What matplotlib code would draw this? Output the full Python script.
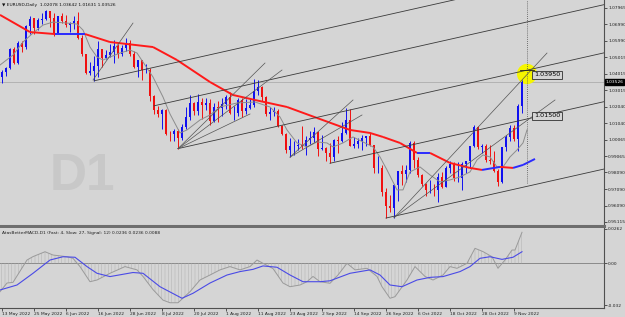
import matplotlib
matplotlib.use("Agg")
import matplotlib.pyplot as plt
import numpy as np
from matplotlib.collections import LineCollection
from matplotlib.patches import Ellipse

# EURUSD daily bars, 13 May 2022 .. 11 Nov 2022 (bar index 0..130)
opens = [1.0380, 1.0412, 1.0437, 1.0551, 1.0465, 1.0587, 1.0563, 1.0690, 1.0734, 1.0675,
         1.0725, 1.0732, 1.0780, 1.0734, 1.0648, 1.0749, 1.0719, 1.0696, 1.0704, 1.0718,
         1.0617, 1.0518, 1.0407, 1.0416, 1.0447, 1.0549, 1.0496, 1.0513, 1.0534, 1.0566,
         1.0522, 1.0554, 1.0585, 1.0519, 1.0443, 1.0484, 1.0424, 1.0425, 1.0266, 1.0182,
         1.0160, 1.0185, 1.0040, 1.0037, 1.0060, 1.0018, 1.0080, 1.0141, 1.0226, 1.0178,
         1.0229, 1.0212, 1.0224, 1.0118, 1.0202, 1.0196, 1.0221, 1.0262, 1.0165, 1.0167,
         1.0246, 1.0180, 1.0196, 1.0212, 1.0298, 1.0320, 1.0259, 1.0160, 1.0170, 1.0180,
         1.0089, 1.0037, 0.9943, 0.9968, 0.9969, 0.9971, 0.9965, 1.0003, 1.0017, 1.0054,
         0.9947, 0.9954, 0.9928, 0.9901, 1.0006, 0.9997, 1.0043, 1.0123, 0.9969, 0.9978,
         0.9998, 1.0016, 1.0026, 0.9972, 0.9836, 0.9838, 0.9690, 0.9608, 0.9594, 0.9735,
         0.9815, 0.9801, 0.9825, 0.9985, 0.9884, 0.9793, 0.9742, 0.9702, 0.9706, 0.9703,
         0.9779, 0.9723, 0.9838, 0.9859, 0.9774, 0.9778, 0.9861, 0.9876, 0.9965, 1.0080,
         0.9963, 0.9966, 0.9883, 0.9876, 0.9820, 0.9750, 0.9960, 1.0019, 1.0073, 1.0010,
         1.0208]
highs = [1.0425, 1.0443, 1.0555, 1.0564, 1.0600, 1.0597, 1.0694, 1.0749, 1.0736, 1.0736,
         1.0765, 1.0787, 1.0781, 1.0765, 1.0750, 1.0764, 1.0752, 1.0711, 1.0748, 1.0774,
         1.0637, 1.0521, 1.0471, 1.0506, 1.0601, 1.0553, 1.0546, 1.0582, 1.0606, 1.0579,
         1.0575, 1.0615, 1.0606, 1.0537, 1.0486, 1.0486, 1.0463, 1.0436, 1.0276, 1.0206,
         1.0189, 1.0189, 1.0055, 1.0071, 1.0069, 1.0098, 1.0200, 1.0272, 1.0234, 1.0278,
         1.0258, 1.0258, 1.0249, 1.0224, 1.0236, 1.0254, 1.0274, 1.0293, 1.0208, 1.0254,
         1.0253, 1.0248, 1.0249, 1.0368, 1.0364, 1.0329, 1.0266, 1.0203, 1.0201, 1.0192,
         1.0096, 1.0047, 1.0018, 0.9999, 1.0011, 1.0090, 1.0028, 1.0055, 1.0079, 1.0056,
         1.0033, 0.9960, 0.9987, 1.0011, 1.0029, 1.0113, 1.0198, 1.0188, 1.0020, 1.0018,
         1.0036, 1.0030, 1.0051, 0.9976, 0.9907, 0.9852, 0.9716, 0.9671, 0.9737, 0.9815,
         0.9853, 0.9852, 0.9999, 0.9999, 0.9904, 0.9800, 0.9746, 0.9763, 0.9739, 0.9807,
         0.9809, 0.9846, 0.9876, 0.9870, 0.9874, 0.9870, 0.9875, 0.9964, 1.0093, 1.0089,
         0.9978, 0.9978, 0.9975, 0.9935, 0.9830, 0.9961, 1.0033, 1.0095, 1.0093, 1.0222,
         1.0364]
lows = [1.0349, 1.0389, 1.0428, 1.0461, 1.0463, 1.0533, 1.0550, 1.0641, 1.0642, 1.0662,
        1.0700, 1.0726, 1.0680, 1.0627, 1.0643, 1.0704, 1.0682, 1.0653, 1.0671, 1.0612,
        1.0508, 1.0398, 1.0397, 1.0359, 1.0381, 1.0444, 1.0489, 1.0502, 1.0469, 1.0494,
        1.0510, 1.0540, 1.0510, 1.0439, 1.0382, 1.0366, 1.0405, 1.0235, 1.0162, 1.0144,
        1.0072, 1.0035, 0.9999, 0.9998, 0.9952, 1.0006, 1.0070, 1.0123, 1.0153, 1.0153,
        1.0128, 1.0182, 1.0096, 1.0109, 1.0111, 1.0145, 1.0190, 1.0160, 1.0123, 1.0148,
        1.0141, 1.0160, 1.0188, 1.0203, 1.0273, 1.0236, 1.0150, 1.0122, 1.0148, 1.0080,
        1.0033, 0.9926, 0.9901, 0.9911, 0.9946, 0.9948, 0.9914, 0.9978, 0.9990, 0.9910,
        0.9943, 0.9877, 0.9864, 0.9876, 0.9928, 0.9990, 1.0040, 0.9966, 0.9955, 0.9955,
        0.9945, 0.9965, 0.9968, 0.9808, 0.9807, 0.9666, 0.9535, 0.9571, 0.9537, 0.9636,
        0.9735, 0.9753, 0.9808, 0.9838, 0.9782, 0.9730, 0.9670, 0.9683, 0.9669, 0.9632,
        0.9713, 0.9720, 0.9807, 0.9759, 0.9754, 0.9705, 0.9807, 0.9837, 0.9960, 0.9950,
        0.9925, 0.9871, 0.9860, 0.9813, 0.9730, 0.9745, 0.9935, 1.0000, 0.9995, 0.9935,
        1.0163]
closes = [1.0411, 1.0436, 1.0551, 1.0464, 1.0586, 1.0562, 1.0690, 1.0733, 1.0675, 1.0725,
          1.0732, 1.0780, 1.0734, 1.0648, 1.0749, 1.0719, 1.0696, 1.0704, 1.0718, 1.0617,
          1.0518, 1.0407, 1.0416, 1.0447, 1.0549, 1.0496, 1.0513, 1.0534, 1.0566, 1.0522,
          1.0554, 1.0585, 1.0519, 1.0443, 1.0484, 1.0424, 1.0425, 1.0266, 1.0182, 1.0160,
          1.0185, 1.0040, 1.0037, 1.0060, 1.0018, 1.0080, 1.0141, 1.0226, 1.0178, 1.0229,
          1.0212, 1.0224, 1.0118, 1.0202, 1.0196, 1.0221, 1.0262, 1.0165, 1.0167, 1.0246,
          1.0180, 1.0196, 1.0212, 1.0298, 1.0320, 1.0259, 1.0160, 1.0170, 1.0180, 1.0089,
          1.0037, 0.9943, 0.9968, 0.9969, 0.9971, 0.9965, 1.0003, 1.0017, 1.0054, 0.9947,
          0.9954, 0.9928, 0.9901, 1.0006, 0.9997, 1.0043, 1.0123, 0.9969, 0.9978, 0.9998,
          1.0016, 1.0026, 0.9972, 0.9836, 0.9838, 0.9690, 0.9608, 0.9594, 0.9735, 0.9815,
          0.9801, 0.9825, 0.9985, 0.9884, 0.9793, 0.9742, 0.9702, 0.9706, 0.9703, 0.9779,
          0.9723, 0.9838, 0.9859, 0.9774, 0.9778, 0.9861, 0.9876, 0.9965, 1.0080, 0.9963,
          0.9966, 0.9883, 0.9876, 0.9820, 0.9750, 0.9960, 1.0019, 1.0073, 1.0010, 1.0210,
          1.0353]

date_labels = ["13 May 2022", "25 May 2022", "6 Jun 2022", "16 Jun 2022", "28 Jun 2022",
               "8 Jul 2022", "20 Jul 2022", "1 Aug 2022", "11 Aug 2022", "23 Aug 2022",
               "2 Sep 2022", "14 Sep 2022", "26 Sep 2022", "6 Oct 2022", "18 Oct 2022",
               "28 Oct 2022", "9 Nov 2022"]
date_idx = list(range(0, 129, 8))

price_ticks = [1.07965, 1.06990, 1.05990, 1.05015, 1.04015, 1.03015, 1.02040, 1.01040,
               1.00065, 0.99065, 0.98090, 0.97090, 0.96090, 0.95115]
last_price = 1.03526

# slow MA (red falling / blue rising)
ma_slow_idx = [-0.5, 7, 13.25, 20.75, 27, 37.75, 43.75, 52, 57.75, 63.25, 71.25, 78.75, 87,
               92, 95.25, 99.5, 103.75, 107, 112, 117, 120, 124.5, 127.75, 130.25, 133.25]
ma_slow_val = [1.0755, 1.0652, 1.0640, 1.0640, 1.0592, 1.0562, 1.0484, 1.0352, 1.0274, 1.0244,
               1.0202, 1.0136, 1.0064, 1.0046, 1.0022, 0.9986, 0.9926, 0.9926, 0.9866, 0.9836,
               0.9824, 0.9842, 0.9836, 0.9854, 0.9890]

# fast MA (thin grey)
ma_fast_idx = [-0.5, 2.75, 5.25, 7.75, 10.25, 12.75, 16.25, 18.75, 20.25, 22, 23.75, 25.25,
               27, 29.5, 32, 33.75, 35.25, 37.75, 40.25, 42, 44.5, 46.25, 49.5, 52, 54.5,
               58.75, 63.25, 67, 69.5, 71.25, 73.75, 76.25, 78.75, 81.25, 82.75, 85.25, 87.75,
               90.25, 92.75, 94.5, 96.25, 97.5, 98.75, 100.25, 102, 104.5, 107, 109.5, 112,
               114.5, 117, 118.75, 120.25, 122, 123.75, 125.25, 127, 128.75, 130.25, 131.25]
ma_fast_val = [1.0454, 1.0514, 1.0592, 1.0646, 1.0694, 1.0712, 1.0706, 1.0700, 1.0664, 1.0562,
               1.0502, 1.0484, 1.0502, 1.0526, 1.0544, 1.0526, 1.0472, 1.0382, 1.0262, 1.0160,
               1.0046, 1.0064, 1.0124, 1.0154, 1.0202, 1.0226, 1.0232, 1.0202, 1.0142, 1.0064,
               0.9986, 0.9962, 0.9992, 0.9986, 0.9962, 0.9986, 1.0022, 0.9992, 0.9962, 0.9902,
               0.9824, 0.9764, 0.9704, 0.9704, 0.9812, 0.9842, 0.9794, 0.9752, 0.9764, 0.9782,
               0.9812, 0.9884, 0.9914, 0.9902, 0.9842, 0.9842, 0.9902, 0.9944, 0.9986, 1.0064]

# parallel channel rays: anchor bar, anchor price
channel_slope = 0.00054
channel_idx = [23, 38, 44, 82, 96]
channel_val = [1.0359, 1.0209, 0.9952, 0.9864, 0.9535]

# fan / trend segments: (bar0, price0, bar1, price1)
fan_lines = [
    (22.75, 1.0364, 32.75, 1.0706),
    (44, 0.9952, 65.75, 1.0466),
    (44, 0.9952, 70, 1.0424),
    (44, 0.9952, 62, 1.0160),
    (72, 0.9901, 87.75, 1.0244),
    (72, 0.9901, 90, 1.0154),
    (98, 0.9537, 136.25, 1.0526),
    (98, 0.9537, 138.25, 1.0244),
]

# MACD panel (fast 4, slow 27, signal 12)
macd_idx = [-0.5, 1.25, 2.75, 6.25, 7.75, 10.75, 12.75, 16.25, 17.75, 19.5, 22, 23.75, 27,
            30.75, 33.75, 35.25, 37.75, 40.25, 42, 44, 47, 49.5, 52, 54.5, 57, 59.5, 62,
            63.75, 65.25, 67.75, 70.25, 72, 74.5, 76.25, 77.75, 79.5, 82, 84, 86.25, 88.25,
            91.25, 93.75, 95, 97, 98.25, 101.25, 103.25, 105.75, 107.75, 110.25, 112, 113.75,
            116.25, 118.25, 120.25, 122.5, 124, 125.75, 127.5, 128.25, 130]
macd_val = [-0.0216, -0.0150, -0.0145, 0.0025, 0.0051, 0.0088, 0.0063, 0.0050, 0.0038, -0.0025,
            -0.0140, -0.0127, -0.0076, -0.0025, -0.0050, -0.0100, -0.0200, -0.0280, -0.0300,
            -0.0300, -0.0216, -0.0127, -0.0089, -0.0050, -0.0025, -0.0050, -0.0025, 0.0025,
            0.0000, -0.0040, -0.0150, -0.0178, -0.0165, -0.0140, -0.0100, -0.0140, -0.0152,
            -0.0089, 0.0000, -0.0050, -0.0038, -0.0100, -0.0178, -0.0266, -0.0254, -0.0127,
            -0.0025, -0.0100, -0.0127, -0.0089, -0.0025, -0.0038, 0.0000, 0.0114, 0.0089,
            0.0050, -0.0038, 0.0025, 0.0101, 0.0101, 0.0236]
signal_idx = [-0.5, 3.75, 7.75, 12, 15.25, 18.25, 21.25, 23.75, 27, 32.75, 35.25, 39.5, 45,
              47.75, 52, 56.25, 59.5, 62.75, 65.25, 68.75, 72, 75.25, 79.5, 82, 87, 92, 94.5,
              97, 100, 103.75, 107, 110.25, 114.5, 117, 119.5, 122, 125, 127.75, 130]
signal_val = [-0.0203, -0.0165, -0.0076, 0.0025, 0.0050, 0.0046, -0.0025, -0.0076, -0.0101,
              -0.0070, -0.0076, -0.0178, -0.0266, -0.0228, -0.0150, -0.0089, -0.0063, -0.0046,
              -0.0020, -0.0030, -0.0089, -0.0140, -0.0140, -0.0133, -0.0076, -0.0050, -0.0089,
              -0.0165, -0.0178, -0.0127, -0.0107, -0.0101, -0.0063, -0.0025, 0.0038, 0.0050,
              0.0030, 0.0046, 0.0088]
macd_ticks = [0.0262, 0.0, -0.032]
macd_tick_labels = ["0.0262", "0.00", "-0.032"]

BG = "#d5d5d5"
BULL = "#1010f0"
BEAR = "#f01010"
FS = 3.2

plt.rcParams["hatch.linewidth"] = 0.35

fig = plt.figure(figsize=(6.25, 3.17), dpi=100)
fig.patch.set_facecolor(BG)
ax = fig.add_axes([0, 91 / 317, 604 / 625, 226 / 317])
mx = fig.add_axes([0, 9 / 317, 604 / 625, 80 / 317], sharex=ax)
for a in (ax, mx):
    a.set_facecolor(BG)
    a.spines["left"].set_visible(False)
    a.spines["top"].set_visible(False)
    a.spines["right"].set_color("#505050")
    a.spines["right"].set_linewidth(0.8)
ax.spines["bottom"].set_color("#6e6e6e")
ax.spines["bottom"].set_linewidth(2.2)
mx.spines["bottom"].set_color("#505050")
mx.spines["bottom"].set_linewidth(0.8)

ax.set_xlim(-0.5, 150.5)
ax.set_ylim(0.94872, 1.08445)

x = np.arange(len(closes))
o = np.array(opens)
h = np.array(highs)
l = np.array(lows)
c = np.array(closes)
up = c >= o
colors = np.where(up, BULL, BEAR)

# watermark
ax.text(12.0, 0.9782, "D1", fontsize=37, fontweight="bold", family="Liberation Sans",
        color="#c8c8c8", va="center", ha="left", zorder=0)

# current price line
ax.axhline(last_price, color="#b2b2b2", lw=0.7, zorder=1)

# highlight circle
ax.add_patch(Ellipse((131.25, 1.0400), 5.0, 0.0122, color="#f6f600", zorder=1.5, lw=0))

# candles
ax.vlines(x, l, h, colors=colors, lw=0.7, zorder=2)
body = np.maximum(np.abs(c - o), 0.00012)
ax.bar(x, body, bottom=np.minimum(o, c), width=0.72, color=colors, lw=0, zorder=2.2)

# moving averages
ax.plot(ma_fast_idx, ma_fast_val, color="#8c8c8c", lw=0.7, zorder=2.5)
pts = np.column_stack([ma_slow_idx, ma_slow_val])
segs = [pts[k:k + 2] for k in range(len(pts) - 1)]
seg_cols = ["#2b2bff" if ma_slow_val[k + 1] >= ma_slow_val[k] else "#ff1a1a"
            for k in range(len(pts) - 1)]
ax.add_collection(LineCollection(segs, colors=seg_cols, linewidths=1.4, zorder=2.6))

# channel rays and fans
for i0, p0 in zip(channel_idx, channel_val):
    ax.plot([i0, 151], [p0, p0 + channel_slope * (151 - i0)], color="#3a3a3a", lw=0.6, zorder=3)
for i0, p0, i1, p1 in fan_lines:
    ax.plot([i0, i1], [p0, p1], color="#555555", lw=0.5, zorder=3)

# vertical dotted line
ax.vlines(131.25, 0.9745, 1.08445, colors="#505050", lw=0.6, linestyles=(0, (1, 1.5)), zorder=3)

# price labels
box = dict(boxstyle="square,pad=0.25", fc=BG, ec="#303030", lw=0.6)
ax.plot([129.5, 133], [1.0424, 1.0424], color="#202020", lw=0.6, zorder=4)
ax.text(133.0, 1.0395, "1.03950", fontsize=4.6, va="center", ha="left", bbox=box, zorder=5)
ax.text(133.0, 1.0150, "1.01500", fontsize=4.6, va="center", ha="left", bbox=box, zorder=5)

# right price axis
ax.yaxis.tick_right()
ax.set_yticks(price_ticks)
ax.set_yticklabels([f"{p:.5f}" for p in price_ticks])
ax.tick_params(axis="y", labelsize=FS, length=2, width=0.5, pad=1, colors="#202020")
ax.tick_params(axis="x", bottom=False, labelbottom=False)
ax.text(1.003, last_price, f"{last_price:.5f}", transform=ax.get_yaxis_transform(),
        fontsize=FS, color="white", va="center", ha="left",
        bbox=dict(boxstyle="square,pad=0.15", fc="black", ec="black"), zorder=6)

fig.text(2 / 625, 1 - 5 / 317, "\u25bc EURUSD,Daily  1.02078 1.03642 1.01631 1.03526",
         fontsize=FS, va="center", ha="left", color="#101010")

# MACD panel
mx.set_ylim(-0.0340, 0.02686)
mx.axhline(0, color="#8a8a8a", lw=0.7, zorder=1)
mx.fill_between(macd_idx, 0, macd_val, facecolor="none", edgecolor="#b2b2b2",
                hatch="|||||", lw=0, zorder=1.5)
mx.plot(macd_idx, macd_val, color="#9a9a9a", lw=0.7, zorder=2)
mx.plot(signal_idx, signal_val, color="#4a4ae6", lw=0.8, zorder=3)
mx.yaxis.tick_right()
mx.set_yticks(macd_ticks)
mx.set_yticklabels(macd_tick_labels)
mx.tick_params(axis="y", labelsize=FS, length=2, width=0.5, pad=1, colors="#202020")
mx.set_xticks(date_idx)
mx.set_xticklabels(date_labels, ha="left")
mx.tick_params(axis="x", labelsize=FS, length=2, width=0.5, pad=1, colors="#202020")
mx.text(0.004, 0.965, "AtasBetterMACD-D1 (Fast: 4, Slow: 27, Signal: 12) 0.0236 0.0236 0.0088",
        transform=mx.transAxes, fontsize=FS, va="top", ha="left", color="#202020")

fig.savefig("out.png", dpi=100, facecolor=BG)
